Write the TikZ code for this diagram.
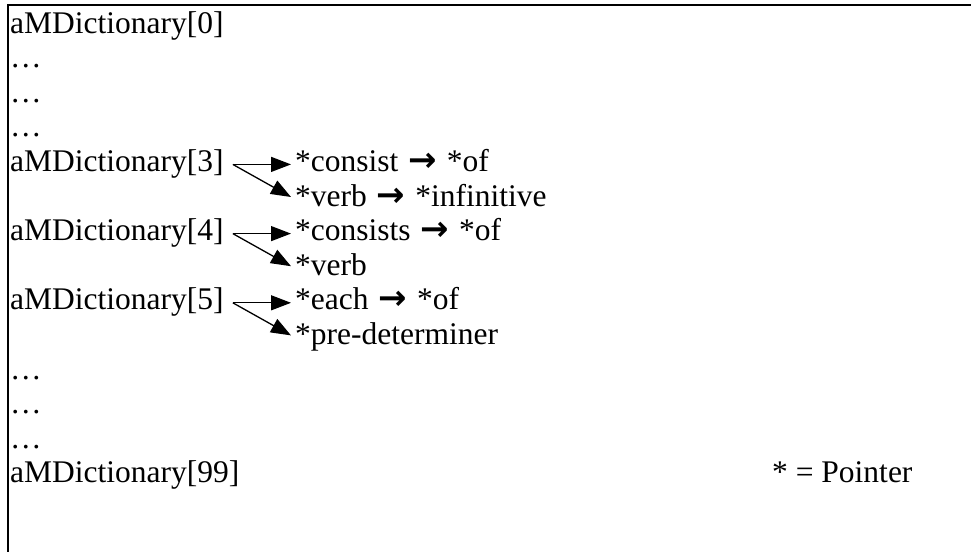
\documentclass[tikz,border=0pt]{standalone}
\usepackage{fontspec}
\setmainfont{Liberation Serif}
\newfontfamily\arrowfont{DejaVu Sans}
\usetikzlibrary{arrows.meta,calc}
\begin{document}
\begin{tikzpicture}[x=1pt,y=-1pt,
  txt/.style={anchor=base west,inner sep=0pt,font=\fontsize{31.5}{36}\selectfont},
  ptr/.style={-{Triangle[length=20pt,width=15pt]},line width=1.3pt},
  frame/.style={line width=1.5pt}]
\useasboundingbox (0,0) rectangle (971,552);
\draw[frame] (971,5) -- (8,5) -- (8,552);
\newcommand\ra{\hspace{10pt}{\fontsize{34}{36}\arrowfont\bfseries →}\hspace{10pt}}
% left column
\node[txt] (l0)  at (10,33)    {aMDictionary[0]};
\node[txt] (l1)  at (10,67.6)  {\dots};
\node[txt] (l2)  at (10,102.2) {\dots};
\node[txt] (l3)  at (10,136.8) {\dots};
\node[txt] (d3)  at (10,171.4) {aMDictionary[3]};
\node[txt] (d4)  at (10,240.6) {aMDictionary[4]};
\node[txt] (d5)  at (10,309.8) {aMDictionary[5]};
\node[txt] (l10) at (10,379)   {\dots};
\node[txt] (l11) at (10,413.6) {\dots};
\node[txt] (l12) at (10,448.2) {\dots};
\node[txt] (d99) at (10,482.8) {aMDictionary[99]};
\node[txt] (leg) at (772,482.8) {* = Pointer};
% right column
\node[txt] (c3) at (295,171.4) {*consist\ra*of};
\node[txt] (v3) at (295,206)   {*verb\ra*infinitive};
\node[txt] (c4) at (295,240.6) {*consists\ra*of};
\node[txt] (v4) at (295,275.2) {*verb};
\node[txt] (c5) at (295,309.8) {*each\ra*of};
\node[txt] (v5) at (295,344.4) {*pre-determiner};
% pointers
\foreach \a/\b/\c in {d3/c3/v3, d4/c4/v4, d5/c5/v5}{
  \coordinate (s\a) at ($(\a.base east)+(9,-7)$);
  \coordinate (h\a) at ($(\b.base west)+(-4,-7)$);
  \coordinate (t\a) at ($(\c.base west)+(-4,-9)$);
  \draw[ptr] (s\a) -- (h\a);
  \draw[ptr] (s\a) -- (t\a);
}
\end{tikzpicture}
\end{document}
